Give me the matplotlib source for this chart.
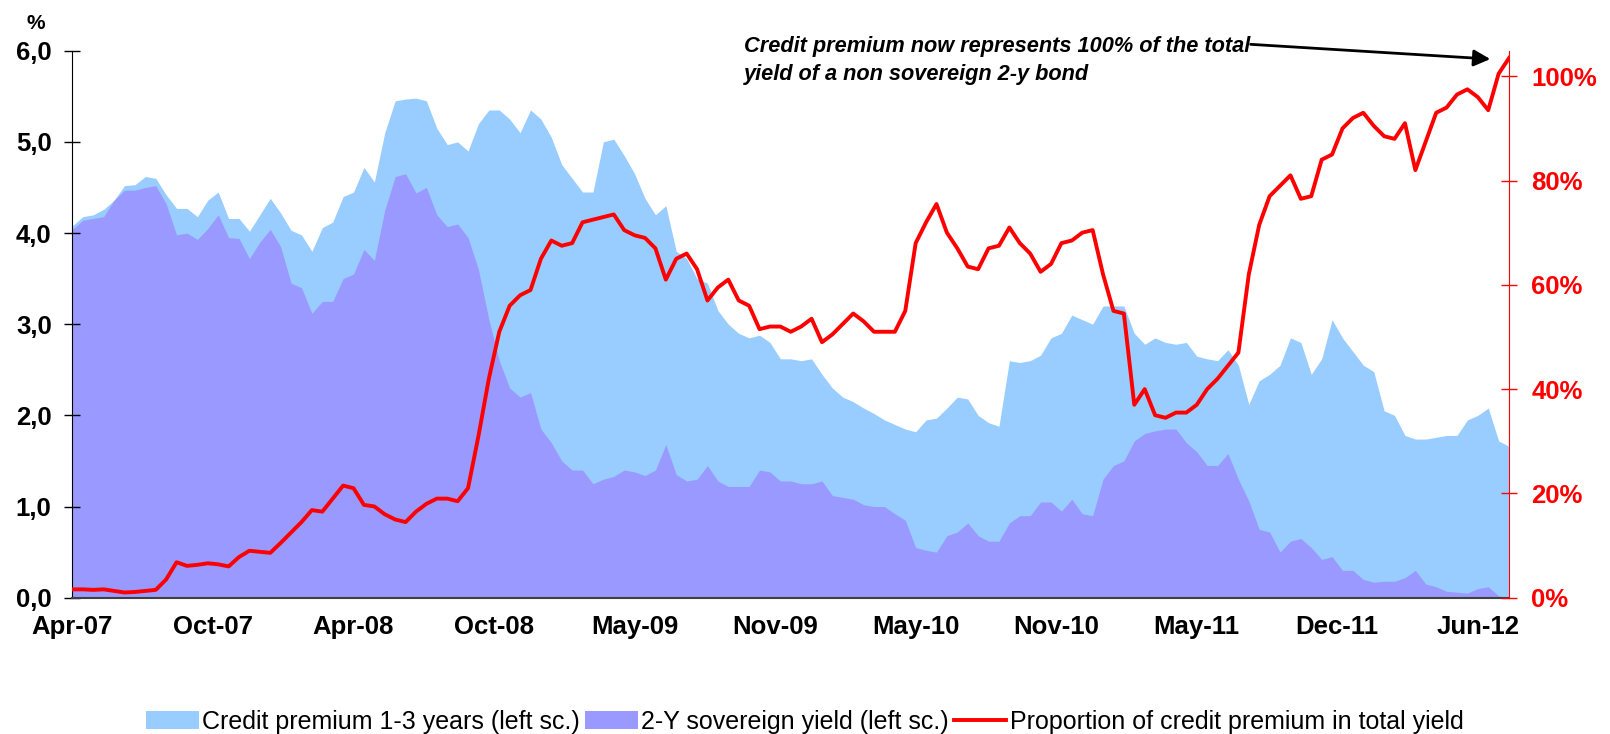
import numpy as np
import matplotlib.pyplot as plt

plt.rcParams['font.family'] = ['Liberation Sans', 'DejaVu Sans']

# trading-day index, one reading every 10 days (Apr-07 .. Jul-12)
step = 10

# top of the stacked area = 2-Y sovereign yield + credit premium (%)
total_yield = [
    4.08, 4.18, 4.20, 4.26, 4.36, 4.52, 4.53, 4.62, 4.60, 4.42,
    4.27, 4.27, 4.18, 4.36, 4.45, 4.16, 4.16, 4.02, 4.20, 4.38,
    4.22, 4.03, 3.98, 3.80, 4.06, 4.12, 4.40, 4.45, 4.72, 4.56,
    5.10, 5.45, 5.47, 5.48, 5.45, 5.15, 4.97, 5.00, 4.90, 5.20,
    5.35, 5.35, 5.25, 5.10, 5.35, 5.25, 5.05, 4.75, 4.60, 4.45,
    4.45, 5.00, 5.03, 4.85, 4.65, 4.38, 4.20, 4.30, 3.80, 3.72,
    3.50, 3.45, 3.15, 3.00, 2.90, 2.85, 2.88, 2.80, 2.62, 2.62,
    2.60, 2.62, 2.45, 2.30, 2.20, 2.15, 2.08, 2.02, 1.95, 1.90,
    1.85, 1.82, 1.95, 1.97, 2.08, 2.20, 2.18, 2.00, 1.92, 1.88,
    2.60, 2.58, 2.60, 2.66, 2.85, 2.90, 3.10, 3.05, 3.00, 3.20,
    3.20, 3.20, 2.90, 2.78, 2.85, 2.80, 2.78, 2.80, 2.65, 2.62,
    2.60, 2.72, 2.55, 2.12, 2.38, 2.45, 2.55, 2.85, 2.80, 2.45,
    2.62, 3.05, 2.85, 2.70, 2.55, 2.48, 2.05, 2.00, 1.78, 1.74,
    1.74, 1.76, 1.78, 1.78, 1.95, 2.00, 2.08, 1.72, 1.66,
]

# 2-Y sovereign yield (%)
sov_yield = [
    4.04, 4.14, 4.16, 4.18, 4.36, 4.47, 4.47, 4.50, 4.52, 4.32,
    3.98, 4.00, 3.93, 4.05, 4.20, 3.95, 3.94, 3.72, 3.90, 4.04,
    3.85, 3.45, 3.40, 3.12, 3.25, 3.25, 3.50, 3.55, 3.82, 3.70,
    4.25, 4.62, 4.65, 4.44, 4.50, 4.20, 4.07, 4.10, 3.95, 3.60,
    3.05, 2.60, 2.30, 2.20, 2.25, 1.85, 1.70, 1.50, 1.40, 1.40,
    1.25, 1.30, 1.33, 1.40, 1.38, 1.34, 1.40, 1.68, 1.35, 1.28,
    1.30, 1.45, 1.28, 1.22, 1.22, 1.22, 1.40, 1.38, 1.28, 1.28,
    1.25, 1.25, 1.28, 1.12, 1.10, 1.08, 1.02, 1.00, 1.00, 0.92,
    0.85, 0.55, 0.52, 0.50, 0.68, 0.72, 0.82, 0.68, 0.62, 0.62,
    0.82, 0.90, 0.90, 1.05, 1.05, 0.95, 1.08, 0.92, 0.90, 1.30,
    1.45, 1.50, 1.72, 1.80, 1.83, 1.85, 1.85, 1.70, 1.60, 1.45,
    1.45, 1.58, 1.30, 1.06, 0.75, 0.72, 0.50, 0.62, 0.65, 0.55,
    0.42, 0.45, 0.30, 0.30, 0.20, 0.17, 0.18, 0.18, 0.22, 0.30,
    0.15, 0.12, 0.07, 0.06, 0.05, 0.10, 0.12, 0.02, 0.00,
]

# proportion of credit premium in total yield (%), right scale
proportion = [
    1.6, 1.6, 1.5, 1.6, 1.3, 1.0, 1.1, 1.3, 1.5, 3.5,
    6.8, 6.1, 6.3, 6.6, 6.4, 6.0, 7.8, 9.0, 8.8, 8.6,
    10.5, 12.5, 14.5, 16.8, 16.5, 19.0, 21.5, 21.0, 17.8, 17.5,
    16.0, 15.0, 14.5, 16.5, 18.0, 19.0, 19.0, 18.5, 21.0, 31.0,
    42.0, 51.0, 56.0, 58.0, 59.0, 65.0, 68.5, 67.5, 68.0, 72.0,
    72.5, 73.0, 73.5, 70.5, 69.5, 69.0, 67.0, 61.0, 65.0, 66.0,
    63.0, 57.0, 59.5, 61.0, 57.0, 56.0, 51.5, 52.0, 52.0, 51.0,
    52.0, 53.5, 49.0, 50.5, 52.5, 54.5, 53.0, 51.0, 51.0, 51.0,
    55.0, 68.0, 72.0, 75.5, 70.0, 67.0, 63.5, 63.0, 67.0, 67.5,
    71.0, 68.0, 66.0, 62.5, 64.0, 68.0, 68.5, 70.0, 70.5, 62.0,
    55.0, 54.5, 37.0, 40.0, 35.0, 34.5, 35.5, 35.5, 37.0, 40.0,
    42.0, 44.5, 47.0, 62.0, 71.5, 77.0, 79.0, 81.0, 76.5, 77.0,
    84.0, 85.0, 90.0, 92.0, 93.0, 90.5, 88.5, 88.0, 91.0, 82.0,
    87.5, 93.0, 94.0, 96.5, 97.5, 96.0, 93.5, 100.5, 103.5,
]

tick_labels = ["Apr-07", "Oct-07", "Apr-08", "Oct-08", "May-09", "Nov-09",
               "May-10", "Nov-10", "May-11", "Dec-11", "Jun-12"]
label_every = 135   # trading days between category labels

days = np.arange(len(total_yield)) * step

fig = plt.figure(figsize=(16.1, 7.34), dpi=100)
ax = fig.add_axes([0.045, 0.1857, 0.8923, 0.7452])
ax2 = ax.twinx()

ax.fill_between(days, 0, total_yield, color="#99CCFF", lw=0,
                label="Credit premium 1-3 years (left sc.)")
ax.fill_between(days, 0, sov_yield, color="#9999FF", lw=0,
                label="2-Y sovereign yield (left sc.)")
ax2.plot(days, proportion, color="#FF0000", lw=2.8,
         label="Proportion of credit premium in total yield")

ax.set_xlim(0, days[-1])
ax.set_ylim(0, 6)
ax2.set_ylim(0, 104.9)

ax.set_yticks(np.arange(0, 7, 1))
ax.set_yticklabels([("%.1f" % v).replace(".", ",") for v in range(7)])
ax2.set_yticks(np.arange(0, 101, 20))
ax2.set_yticklabels(["%d%%" % v for v in range(0, 101, 20)])
ax.set_xticks(np.arange(len(tick_labels)) * label_every)
ax.set_xticklabels(tick_labels)

for lab in ax.get_yticklabels() + ax.get_xticklabels():
    lab.set_fontweight("bold")
    lab.set_fontsize(18.5)
for lab in ax2.get_yticklabels():
    lab.set_fontweight("bold")
    lab.set_fontsize(18.5)
    lab.set_color("#FF0000")

ax.tick_params(axis="y", direction="inout", length=12, width=1, pad=9)
ax.tick_params(axis="x", length=0, pad=12.5)
ax2.tick_params(axis="y", direction="inout", length=12, width=1,
                color="#FF0000", pad=10)

for s in ["top", "right"]:
    ax.spines[s].set_visible(False)
for s in ["top", "left", "bottom"]:
    ax2.spines[s].set_visible(False)
ax.spines["left"].set_color("black")
ax.spines["bottom"].set_color("#404040")
ax.spines["bottom"].set_linewidth(1.5)
ax2.spines["right"].set_color("#FF0000")

fig.text(36 / 1610, 1 - 23.5 / 734, "%", ha="center", va="center",
         fontsize=15, fontweight="bold")

fig.text(0.4619, 0.9296, "Credit premium now represents 100% of the total",
         fontsize=15.7, fontweight="bold", style="italic", va="baseline")
fig.text(0.4619, 0.891, "yield of a non sovereign 2-y bond",
         fontsize=15.7, fontweight="bold", style="italic", va="baseline")
ax2.annotate("", xy=(1362, 103.3), xycoords="data",
             xytext=(0.7768, 0.9396), textcoords="figure fraction",
             arrowprops=dict(arrowstyle="-|>", color="black", lw=2,
                             mutation_scale=25, shrinkA=0, shrinkB=0))

h1, l1 = ax.get_legend_handles_labels()
h2, l2 = ax2.get_legend_handles_labels()
fig.legend(h1 + h2, l1 + l2, loc="lower center", bbox_to_anchor=(0.5, -0.03),
           ncol=3, frameon=False, fontsize=18, handlelength=2.1,
           handletextpad=0.15, columnspacing=0.2)

fig.savefig("out.png", dpi=100)
